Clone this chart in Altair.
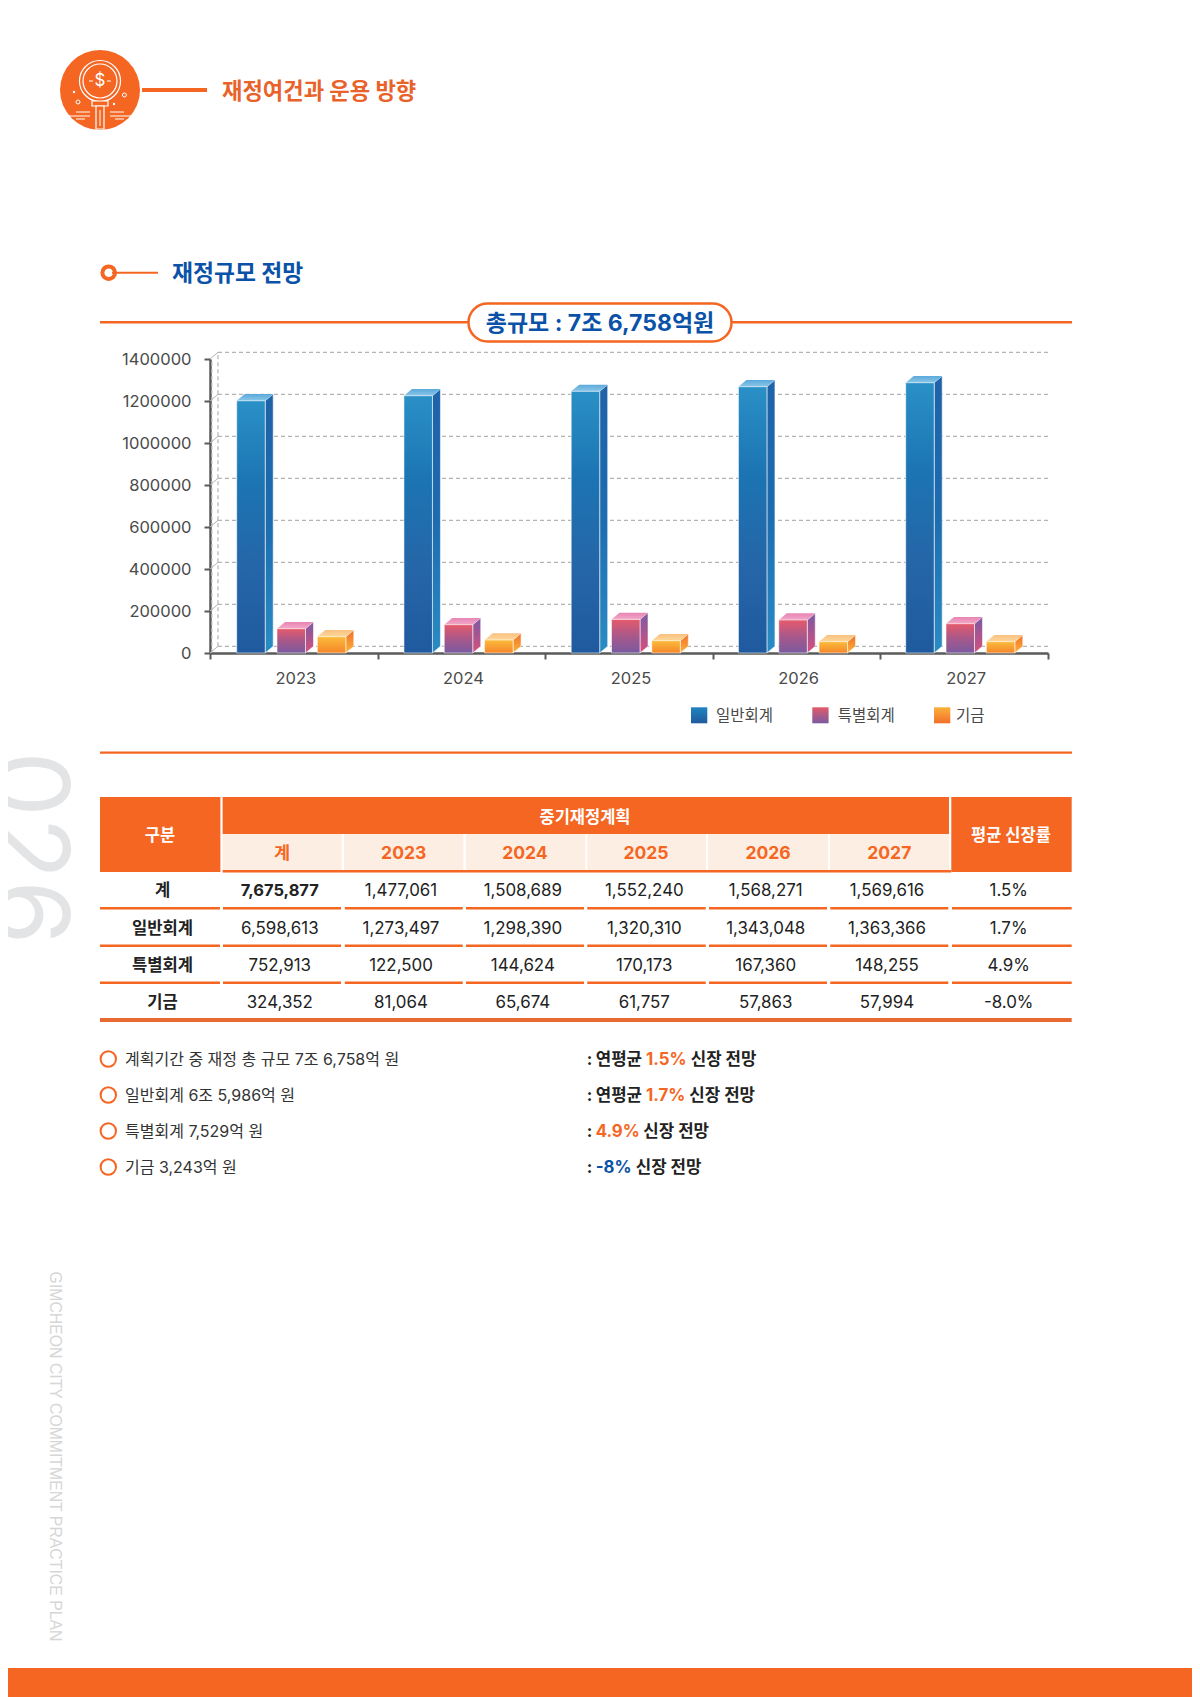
import altair as alt
import pandas as pd

# ---------- chart values ----------
years = [2023, 2024, 2025, 2026, 2027]
general = [1201000, 1225000, 1246000, 1268000, 1287000]
special = [115700, 134700, 160000, 157000, 139500]
fund = [77600, 61900, 58600, 53800, 53800]
y_ticks = [0, 200000, 400000, 600000, 800000, 1000000, 1200000, 1400000]
legend_names = ["일반회계", "특별회계", "기금"]

# ---------- table ----------
table_head = ["계", "2023", "2024", "2025", "2026", "2027"]
row_names = ["계", "일반회계", "특별회계", "기금"]
row_total = ["7,675,877", "1,477,061", "1,508,689", "1,552,240", "1,568,271", "1,569,616", "1.5%"]
row_general = ["6,598,613", "1,273,497", "1,298,390", "1,320,310", "1,343,048", "1,363,366", "1.7%"]
row_special = ["752,913", "122,500", "144,624", "170,173", "167,360", "148,255", "4.9%"]
row_fund = ["324,352", "81,064", "65,674", "61,757", "57,863", "57,994", "-8.0%"]
note_left = ["계획기간 중 재정 총 규모 7조 6,758억 원", "일반회계 6조 5,986억 원", "특별회계 7,529억 원", "기금 3,243억 원"]

# ---------- layout ----------
OX, OY = 210, 359
PW, PH = 838, 294
FONT = "Inter, 'Noto Sans CJK KR', sans-serif"
ORANGE = "#f46622"
BLUE = "#0a52a8"
DARK = "#222222"
BAND_PX = PW / 5
DX = 8 / BAND_PX
DY = 6.7 / PH * 1400000


def X(px):
    return px - OX


def Y(px):
    return px - OY


def grad(*cols):
    n = len(cols) - 1
    return alt.Gradient(
        gradient="linear",
        stops=[alt.GradientStop(color=c, offset=i / n) for i, c in enumerate(cols)],
        x1=0, x2=0, y1=0, y2=1,
    )


xs = alt.Scale(domain=[0, 5], range=[0, PW], nice=False, zero=False)
ys = alt.Scale(domain=[0, 1400000], range=[PH, 0], nice=False, zero=False)
xe = alt.X("x:Q", scale=xs, axis=None)
ye = alt.Y("y:Q", scale=ys, axis=None)

layers = []

# --- axes layer ---
axis_df = pd.DataFrame({"x": [0, 5], "y": [0, 1400000]})
layers.append(
    alt.Chart(axis_df).mark_point(opacity=0).encode(
        x=alt.X("x:Q", scale=xs, title=None, axis=alt.Axis(
            values=[0, 1, 2, 3, 4, 5], labelExpr="datum.value < 5 ? '' + (2023 + datum.value) : ''",
            labelOffset=BAND_PX / 2 + 1.5, labelFont=FONT, labelFontSize=16.5, labelColor="#4a4a4a",
            labelPadding=11, tickSize=6, tickWidth=2, tickColor="#5a5a5a", domainWidth=2.5,
            domainColor="#5a5a5a", grid=False, labelFlush=False, labelOverlap=False, labelBound=False)),
        y=alt.Y("y:Q", scale=ys, title=None, axis=alt.Axis(
            values=y_ticks, format="d", labelFont=FONT, labelFontSize=16.5, labelColor="#4a4a4a",
            labelPadding=13, tickSize=6, tickWidth=2, tickColor="#5a5a5a", domainWidth=2.5,
            domainColor="#5a5a5a", grid=False, labelOverlap=False, labelBound=False)),
    )
)

# --- 3D wall grid ---
grid_df = pd.DataFrame({"x": [DX] * len(y_ticks), "x2": [5] * len(y_ticks), "y": [v + DY for v in y_ticks]})
wall_style = dict(color="#b4b4b4", strokeDash=[4, 3], strokeWidth=1.2)
layers.append(alt.Chart(grid_df).mark_rule(**wall_style).encode(x=xe, x2="x2:Q", y=ye))
diag_df = pd.DataFrame({"x": [0] * len(y_ticks), "x2": [DX] * len(y_ticks), "y": y_ticks, "y2": [v + DY for v in y_ticks]})
layers.append(alt.Chart(diag_df).mark_rule(color="#b4b4b4", strokeWidth=1).encode(x=xe, x2="x2:Q", y=ye, y2="y2:Q"))
vert_df = pd.DataFrame({"x": [DX, DX * 0.22], "y": [DY, 0], "y2": [1400000 + DY, 1400000]})
layers.append(alt.Chart(vert_df).mark_rule(**wall_style).encode(x=xe, y=ye, y2="y2:Q"))

# --- 3D bars ---
STEP = 167.25 / BAND_PX
START = 26.7 / BAND_PX
OFF = 40.3 / BAND_PX
W = 28.5 / BAND_PX
series = [
    (general, 0,
     grad("#2a90c6", "#1c74b2", "#2566a8", "#1f5a9e"),
     grad("#5aaadb", "#8cc6e8"),
     grad("#1f62a8", "#1d6cb0", "#2a8cc4")),
    (special, 1,
     grad("#e65a6c", "#a8588a", "#7a5aa0"),
     grad("#e884b4", "#f2a8c8"),
     grad("#7a5aa4", "#d8507c")),
    (fund, 2,
     grad("#fbbb3a", "#f5862a"),
     grad("#f9c080", "#fdd89a"),
     grad("#f26f2a", "#fbb33a")),
]
for vals, k, front, top, side in series:
    f_rows, t_rows, s_rows = [], [], []
    for i, v in enumerate(vals):
        xl = START + STEP * i + OFF * k
        xr = xl + W
        f_rows.append({"x": xl, "x2": xr, "y": 0, "y2": v})
        s_rows += [
            {"g": i, "x": xr, "y": v, "y2": 0},
            {"g": i, "x": xr + DX, "y": v + DY, "y2": DY},
        ]
        t_rows += [
            {"g": i, "x": xl, "y": v, "y2": v},
            {"g": i, "x": xl + DX, "y": v + DY, "y2": v},
            {"g": i, "x": xr, "y": v + DY, "y2": v},
            {"g": i, "x": xr + DX, "y": v + DY, "y2": v + DY},
        ]
    layers.append(alt.Chart(pd.DataFrame(s_rows)).mark_area(fill=side, orient="vertical", stroke="#ffffff", strokeWidth=0.8, strokeOpacity=0.7).encode(
        x=xe, y=ye, y2="y2:Q", detail="g:N"))
    layers.append(alt.Chart(pd.DataFrame(t_rows)).mark_area(fill=top, orient="vertical").encode(
        x=xe, y=ye, y2="y2:Q", detail="g:N"))
    layers.append(alt.Chart(pd.DataFrame(f_rows)).mark_rect(fill=front, stroke="#ffffff", strokeWidth=0.8, strokeOpacity=0.7).encode(
        x=xe, x2="x2:Q", y=ye, y2="y2:Q"))

# ---------- page furniture (pixel positions, no scale) ----------
px = alt.X("x:Q", scale=None, axis=None)
py = alt.Y("y:Q", scale=None, axis=None)
col = alt.Color("c:N", scale=None, legend=None)


def rects(rows, **mk):
    df = pd.DataFrame([{"x": X(a), "x2": X(b), "y": Y(c), "y2": Y(d), "c": e} for a, b, c, d, e in rows])
    return alt.Chart(df).mark_rect(**mk).encode(x=px, x2="x2:Q", y=py, y2="y2:Q", color=col)


def rules(rows):
    df = pd.DataFrame([{"x": X(a), "x2": X(b), "y": Y(c), "y2": Y(d), "c": e, "w": w} for a, b, c, d, e, w in rows])
    return alt.Chart(df).mark_rule().encode(
        x=px, x2="x2:Q", y=py, y2="y2:Q", color=col,
        strokeWidth=alt.StrokeWidth("w:Q", scale=None, legend=None))


def rings(rows):
    df = pd.DataFrame([{"x": X(a), "y": Y(b), "s": (2 * r) ** 2, "c": e, "w": w} for a, b, r, e, w in rows])
    return alt.Chart(df).mark_point(filled=False, opacity=1).encode(
        x=px, y=py, size=alt.Size("s:Q", scale=None, legend=None),
        stroke=alt.Stroke("c:N", scale=None, legend=None),
        strokeWidth=alt.StrokeWidth("w:Q", scale=None, legend=None))


def discs(rows):
    df = pd.DataFrame([{"x": X(a), "y": Y(b), "s": (2 * r) ** 2, "c": e} for a, b, r, e in rows])
    return alt.Chart(df).mark_circle(opacity=1).encode(
        x=px, y=py, size=alt.Size("s:Q", scale=None, legend=None), color=col)


def texts(rows, align="center", weight=400, font=FONT, angle=0):
    df = pd.DataFrame([{"x": X(a), "y": Y(b), "t": t, "s": s, "c": e} for a, b, t, s, e in rows])
    return alt.Chart(df).mark_text(align=align, baseline="middle", fontWeight=weight, font=font, angle=angle).encode(
        x=px, y=py, text="t:N", size=alt.Size("s:Q", scale=None, legend=None), color=col)


# bottom band and side text
layers.append(rects([(0, 1200, 1668, 1697, ORANGE)]))
layers.append(texts([(25, 848, "026", 104, "#e3e4e5")], weight=400, angle=90))
layers.append(texts([(54.7, 1456.5, "GIMCHEON CITY COMMITMENT PRACTICE PLAN", 15.8, "#d6d6d6")],
                    font="'Liberation Sans', sans-serif", angle=90))

# icon
layers.append(discs([(100, 90, 40, ORANGE)]))
layers.append(rings([(100, 81, 20.5, "#ffffff", 1.2), (100, 81, 17, "#ffffff", 1.2),
                     (78, 102, 2, "#ffffff", 1), (124.4, 95, 2, "#ffffff", 1)]))
layers.append(discs([(74, 92, 1.2, "#ffffff"), (114, 104, 1.2, "#ffffff")]))
layers.append(rects([(92, 108, 101, 106, ORANGE), (96, 104, 106, 129, ORANGE)], stroke="#ffffff", strokeWidth=1.2))
layers.append(rules([
    (100, 100, 110, 126, "#ffffff", 1),
    (76, 90, 112, 112, "#ffffff", 1), (69, 90, 116, 116, "#ffffff", 1), (76, 85, 119, 119, "#ffffff", 1),
    (110, 124, 112, 112, "#ffffff", 1), (110, 131, 116, 116, "#ffffff", 1), (115, 124, 119, 119, "#ffffff", 1),
    (89, 93, 81, 81, "#ffffff", 1), (107, 111, 81, 81, "#ffffff", 1),
]))
layers.append(texts([(100, 81, "$", 17, "#ffffff")]))

# headings
layers.append(rules([
    (142, 207, 90, 90, ORANGE, 4.2),
    (112, 158, 272.7, 272.7, ORANGE, 2),
    (100, 1072, 322.3, 322.3, ORANGE, 2.5),
    (100, 1072, 752.7, 752.7, ORANGE, 2.2),
]))
layers.append(rings([(108.7, 272.7, 6.3, ORANGE, 4)]))
layers.append(rects([(468.5, 731.5, 303.5, 341.5, "#ffffff")], stroke=ORANGE, strokeWidth=2.5, cornerRadius=19))
layers.append(texts([
    (222, 91.5, "재정여건과 운용 방향", 22.2, "#e8622a"),
    (172, 274, "재정규모 전망", 22.8, BLUE),
], align="left", weight=700))
layers.append(texts([(600, 324, "총규모 : 7조 6,758억원", 23, BLUE)], weight=700))

# legend
swatch_x = [691, 812.3, 934]
legend_x = [716, 837.7, 956]
swatch_g = [grad("#1f84c0", "#205a9e"), grad("#e25a6a", "#7a5aa0"), grad("#fbb13a", "#f26f2a")]
for sx, g in zip(swatch_x, swatch_g):
    layers.append(alt.Chart(pd.DataFrame({"x": [X(sx)], "x2": [X(sx + 16.3)], "y": [Y(707.3)], "y2": [Y(723.3)]})).mark_rect(fill=g).encode(
        x=px, x2="x2:Q", y=py, y2="y2:Q"))
layers.append(texts([(a, 716, t, 15.5, "#4a4a4a") for a, t in zip(legend_x, legend_names)], align="left"))

# table
layers.append(rects([
    (100, 220.4, 797, 872, ORANGE),
    (222.6, 949, 797, 834, ORANGE),
    (951.3, 1071.7, 797, 872, ORANGE),
    (222.6, 341.7, 834, 870, "#fdeee3"),
    (344, 463.4, 834, 870, "#fdeee3"),
    (465.7, 585.5, 834, 870, "#fdeee3"),
    (587.2, 706, 834, 870, "#fdeee3"),
    (708, 828, 834, 870, "#fdeee3"),
    (830, 949, 834, 870, "#fdeee3"),
    (222.6, 951.3, 870, 872.5, ORANGE),
    (100, 1071.7, 1018, 1022, "#e86a30"),
]))
seg = [(100, 220), (223, 341), (344.8, 462.7), (466, 584), (587.3, 705.7), (709, 827), (830.3, 948.3), (952, 1071.7)]
row_y_line = [908.3, 945.7, 982.7]
layers.append(rules([(a, b, y, y, ORANGE, 2.4) for y in row_y_line for a, b in seg]))

row_y = [891, 928.5, 965.5, 1002.5]
col_x = [279.8, 401, 522.8, 644.3, 765.7, 887, 1008.7]
head_x = [282, 403.7, 525, 646, 768, 889.3]
layers.append(texts([
    (160, 836, "구분", 16.5, "#ffffff"),
    (585, 817.5, "중기재정계획", 16.5, "#ffffff"),
    (1011, 836, "평균 신장률", 16.5, "#ffffff"),
], weight=700))
layers.append(texts([(a, 854, t, 17.5, ORANGE) for a, t in zip(head_x, table_head)], weight=700))
layers.append(texts([(162.6, y, t, 16.6, DARK) for y, t in zip(row_y, row_names)], weight=700))
body = []
for y, r in zip(row_y, [row_total, row_general, row_special, row_fund]):
    for j, (a, t) in enumerate(zip(col_x, r)):
        if y == row_y[0] and j == 0:
            continue
        body.append((a, y, t, 16.9, DARK))
layers.append(texts(body))
layers.append(texts([(col_x[0], row_y[0], row_total[0], 16.5, DARK)], weight=700))

# notes
note_y = [1059, 1095, 1131, 1167]
text_y = [y + 1 for y in note_y]
layers.append(rings([(108.3, y, 7.7, ORANGE, 2) for y in note_y]))
layers.append(texts([(125, y, t, 16, "#333333") for y, t in zip(text_y, note_left)], align="left"))
layers.append(texts([
    (586.7, text_y[0], ":", 16.8, DARK), (595.7, text_y[0], "연평균", 16.8, DARK),
    (646, text_y[0], "1.5%", 16.8, ORANGE), (690.7, text_y[0], "신장 전망", 16.8, DARK),
    (586.7, text_y[1], ":", 16.8, DARK), (595.7, text_y[1], "연평균", 16.8, DARK),
    (646, text_y[1], "1.7%", 16.8, ORANGE), (689.3, text_y[1], "신장 전망", 16.8, DARK),
    (586.7, text_y[2], ":", 16.8, DARK), (595.7, text_y[2], "4.9%", 16.8, ORANGE),
    (643.3, text_y[2], "신장 전망", 16.8, DARK),
    (586.7, text_y[3], ":", 16.8, DARK), (595.7, text_y[3], "-8%", 16.8, BLUE),
    (635.7, text_y[3], "신장 전망", 16.8, DARK),
], align="left", weight=700))

chart = alt.layer(*layers).resolve_axis(x="independent", y="independent").properties(
    width=PW, height=PH,
    padding={"left": OX - 8, "top": OY - 8, "right": 1184 - (OX - 8) - PW, "bottom": 1689 - (OY - 8) - PH},
    autosize=alt.AutoSizeParams(type="none"),
    background="#ffffff",
).configure_view(stroke=None)

chart.save("out.html", embed_options={"renderer": "svg", "actions": False})
